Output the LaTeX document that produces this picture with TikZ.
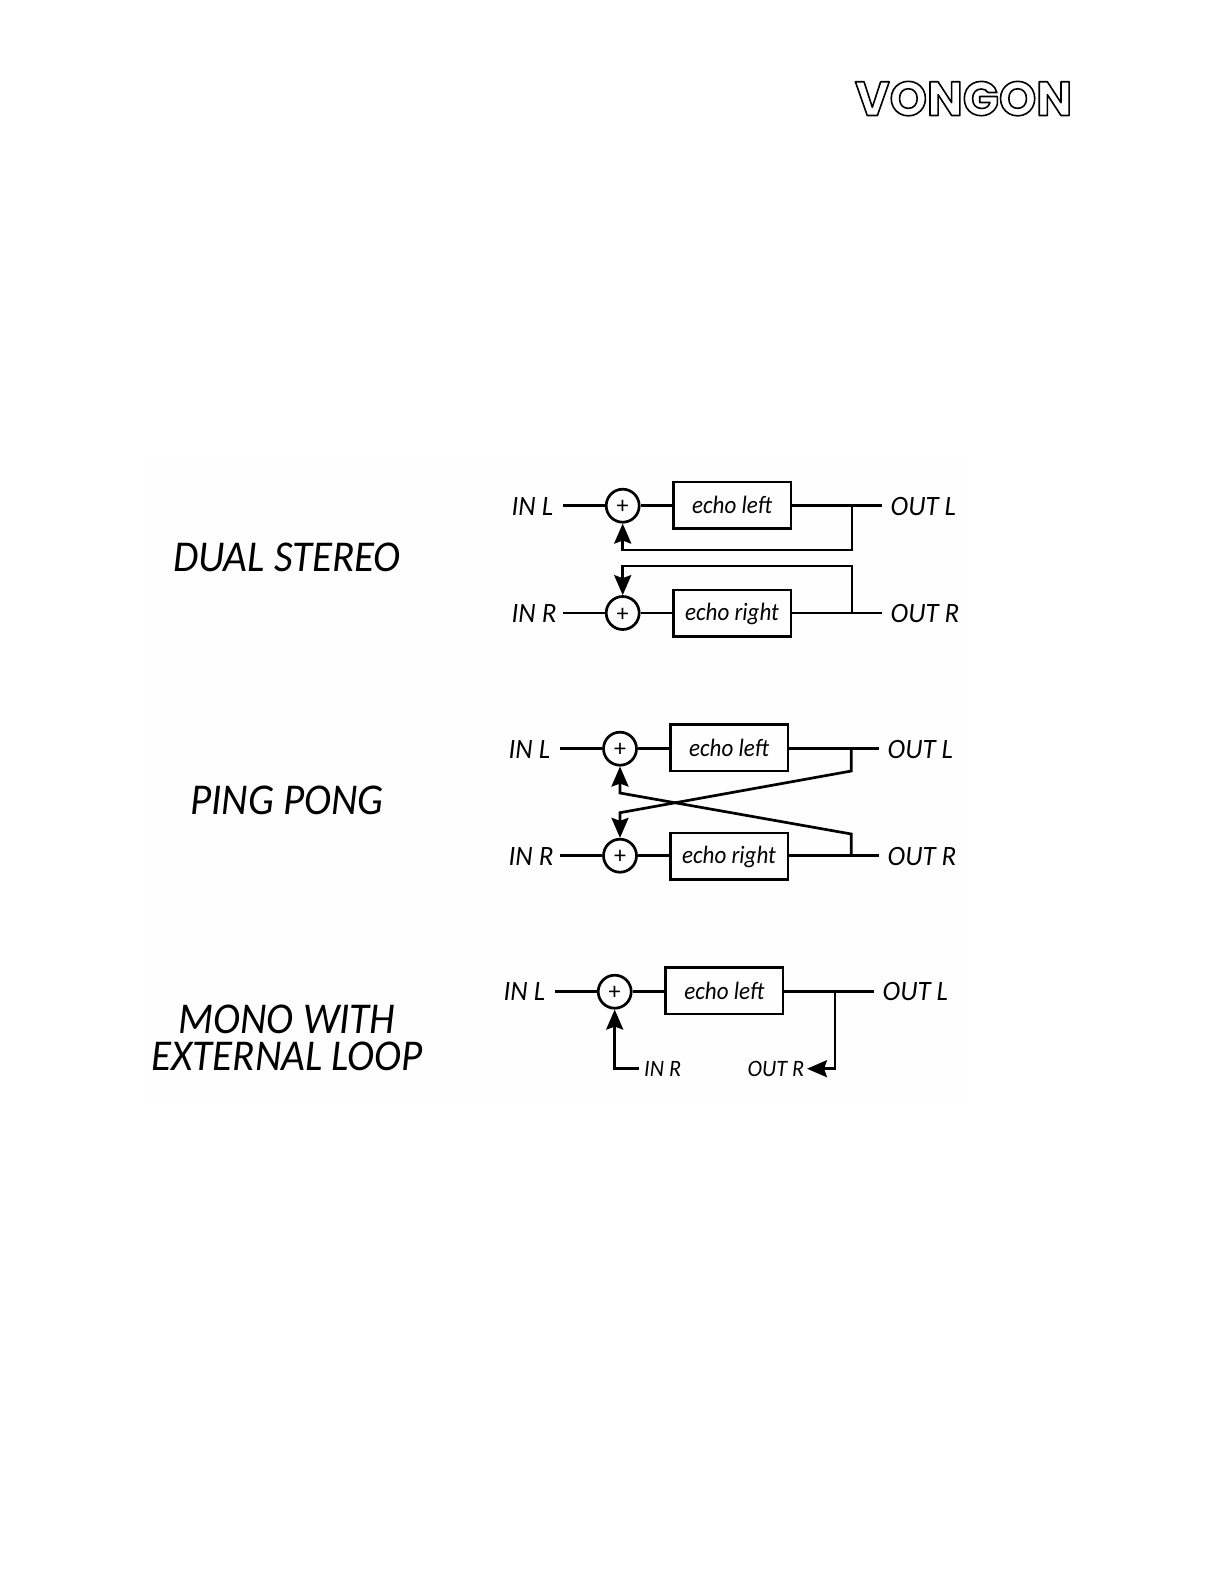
\documentclass[tikz,border=0pt]{standalone}
\usepackage{fontspec}
\setmainfont{Carlito}
\newfontfamily\titlefont[FakeStretch=0.932]{Carlito}
\newfontfamily\portfont[FakeStretch=0.96]{Carlito}
\newfontfamily\smallfont[FakeStretch=0.94]{Carlito}
\newfontfamily\echofont[FakeStretch=0.92]{Carlito}
\newfontfamily\logofont[FakeStretch=0.99]{Poppins}
\usetikzlibrary{arrows.meta}
\newcommand{\plusmark}{\raisebox{-8pt}[0pt][0pt]{+}}
\tikzset{
  wire/.style={line width=2.7pt,line join=miter},
  fb/.style={wire,-{Stealth[length=20pt,width=17pt,inset=3pt]}},
  sumnode/.style={circle,draw,line width=2.7pt,minimum size=33pt,inner sep=0pt,font=\fontsize{24}{24}\selectfont},
  echobox/.style={draw,line width=2.5pt,minimum width=117.5pt,minimum height=46.5pt,inner sep=0pt},
  echotext/.style={anchor=base,inner sep=0pt,font=\fontsize{25}{25}\selectfont\echofont\itshape},
  port/.style={anchor=base west,inner sep=0pt,font=\fontsize{28}{28}\selectfont\portfont\itshape},
  smallport/.style={anchor=base west,inner sep=0pt,font=\fontsize{23.5}{24}\selectfont\smallfont\itshape},
  title/.style={anchor=base,inner sep=0pt,align=center,font=\fontsize{44}{37.5}\selectfont\titlefont\itshape},
}
\begin{document}
\begin{tikzpicture}[x=1pt,y=-1pt]
\useasboundingbox (0,0) rectangle (1224,1584);
\fill[white] (0,0) rectangle (1224,1584);
\fill[black!0.3] (145,462) rectangle (968,1100);
% logo
\node[inner sep=0pt,anchor=base] (logo) at (963.5,115.5) {\fontsize{48}{48}\selectfont\logofont\bfseries\special{pdf:code q 1 Tr 1 j 1.6 w}VONGON\special{pdf:code Q}};
% titles
\node[title] (t1) at (287,571.5) {DUAL STEREO};
\node[title] (t2) at (287,814) {PING PONG};
\node[title,anchor=base] (t3) at (287,1070.5) {MONO WITH\\EXTERNAL LOOP};

% diagram 1
\node[port] (a1) at (511.5,515) {IN L};
\node[port] (a2) at (511.5,622) {IN R};
\node[port] (a3) at (890.5,515) {OUT L};
\node[port] (a4) at (890.5,622) {OUT R};
\coordinate (a1s) at (563,505.7);
\coordinate (a2s) at (563,613);
\coordinate (a3e) at (882,505.7);
\coordinate (a4e) at (882,613);
\node[sumnode] (as1) at (622.7,505.7) {\plusmark};
\node[sumnode] (as2) at (622.7,613) {\plusmark};
\node[echobox] (ab1) at (732,505) {};
\node[echobox] (ab2) at (732,613.3) {};
\node[echotext] (at1) at (ab1.center |- 0,513) {echo left};
\node[echotext] (at2) at (ab2.center |- 0,620) {echo right};
\coordinate (aj1) at (852,505.7);
\coordinate (aj2) at (852,613);
\draw[wire] (a1s) -- (as1);
\draw[wire] (a2s) -- (as2);
\draw[wire] (as1) -- (as1 -| ab1.west);
\draw[wire] (as2) -- (as2 -| ab2.west);
\draw[wire] (aj1 -| ab1.east) -- (a3e);
\draw[wire] (aj2 -| ab2.east) -- (a4e);
\draw[fb] (aj1) -- (852,550) -- (622.7,550) -- (as1);
\draw[fb] (aj2) -- (852,566) -- (622.7,566) -- (as2);

% diagram 2
\node[port] (b1) at (508.5,758) {IN L};
\node[port] (b2) at (508.5,865) {IN R};
\node[port] (b3) at (887.5,758) {OUT L};
\node[port] (b4) at (887.5,865) {OUT R};
\coordinate (b1s) at (560,748.7);
\coordinate (b2s) at (560,855.7);
\coordinate (b3e) at (879,748.7);
\coordinate (b4e) at (879,855.7);
\node[sumnode] (bs1) at (620,748.7) {\plusmark};
\node[sumnode] (bs2) at (620,855.7) {\plusmark};
\node[echobox] (bb1) at (729,747.5) {};
\node[echobox] (bb2) at (729,856.3) {};
\node[echotext] (bt1) at (bb1.center |- 0,756) {echo left};
\node[echotext] (bt2) at (bb2.center |- 0,863) {echo right};
\coordinate (bj1) at (851.3,748.7);
\coordinate (bj2) at (851.3,855.7);
\draw[wire] (b1s) -- (bs1);
\draw[wire] (b2s) -- (bs2);
\draw[wire] (bs1) -- (bs1 -| bb1.west);
\draw[wire] (bs2) -- (bs2 -| bb2.west);
\draw[wire] (bj1 -| bb1.east) -- (b3e);
\draw[wire] (bj2 -| bb2.east) -- (b4e);
\draw[fb] (bj1) -- (851.3,771) -- (620,812.7) -- (bs2);
\draw[fb] (bj2) -- (851.3,834) -- (620,793) -- (bs1);

% diagram 3
\node[port] (c1) at (503.5,1000) {IN L};
\node[port] (c3) at (882.5,1000) {OUT L};
\node[smallport] (c2) at (644,1076) {IN R};
\node[smallport] (c4) at (747.5,1076) {OUT R};
\coordinate (c1s) at (555,991.7);
\coordinate (c3e) at (874,991.7);
\node[sumnode] (cs1) at (614.7,991.7) {\plusmark};
\node[echobox] (cb1) at (724.2,990.7) {};
\node[echotext] (ct1) at (cb1.center |- 0,999) {echo left};
\coordinate (cj) at (835,991.7);
\coordinate (cin) at (639,1068.7);
\coordinate (cout) at (807,1068.7);
\draw[wire] (c1s) -- (cs1);
\draw[wire] (cs1) -- (cs1 -| cb1.west);
\draw[wire] (cj -| cb1.east) -- (c3e);
\draw[fb] (cin) -- (614.7,1068.7) -- (cs1);
\draw[fb] (cj) -- (835,1068.7) -- (cout);
\end{tikzpicture}
\end{document}
